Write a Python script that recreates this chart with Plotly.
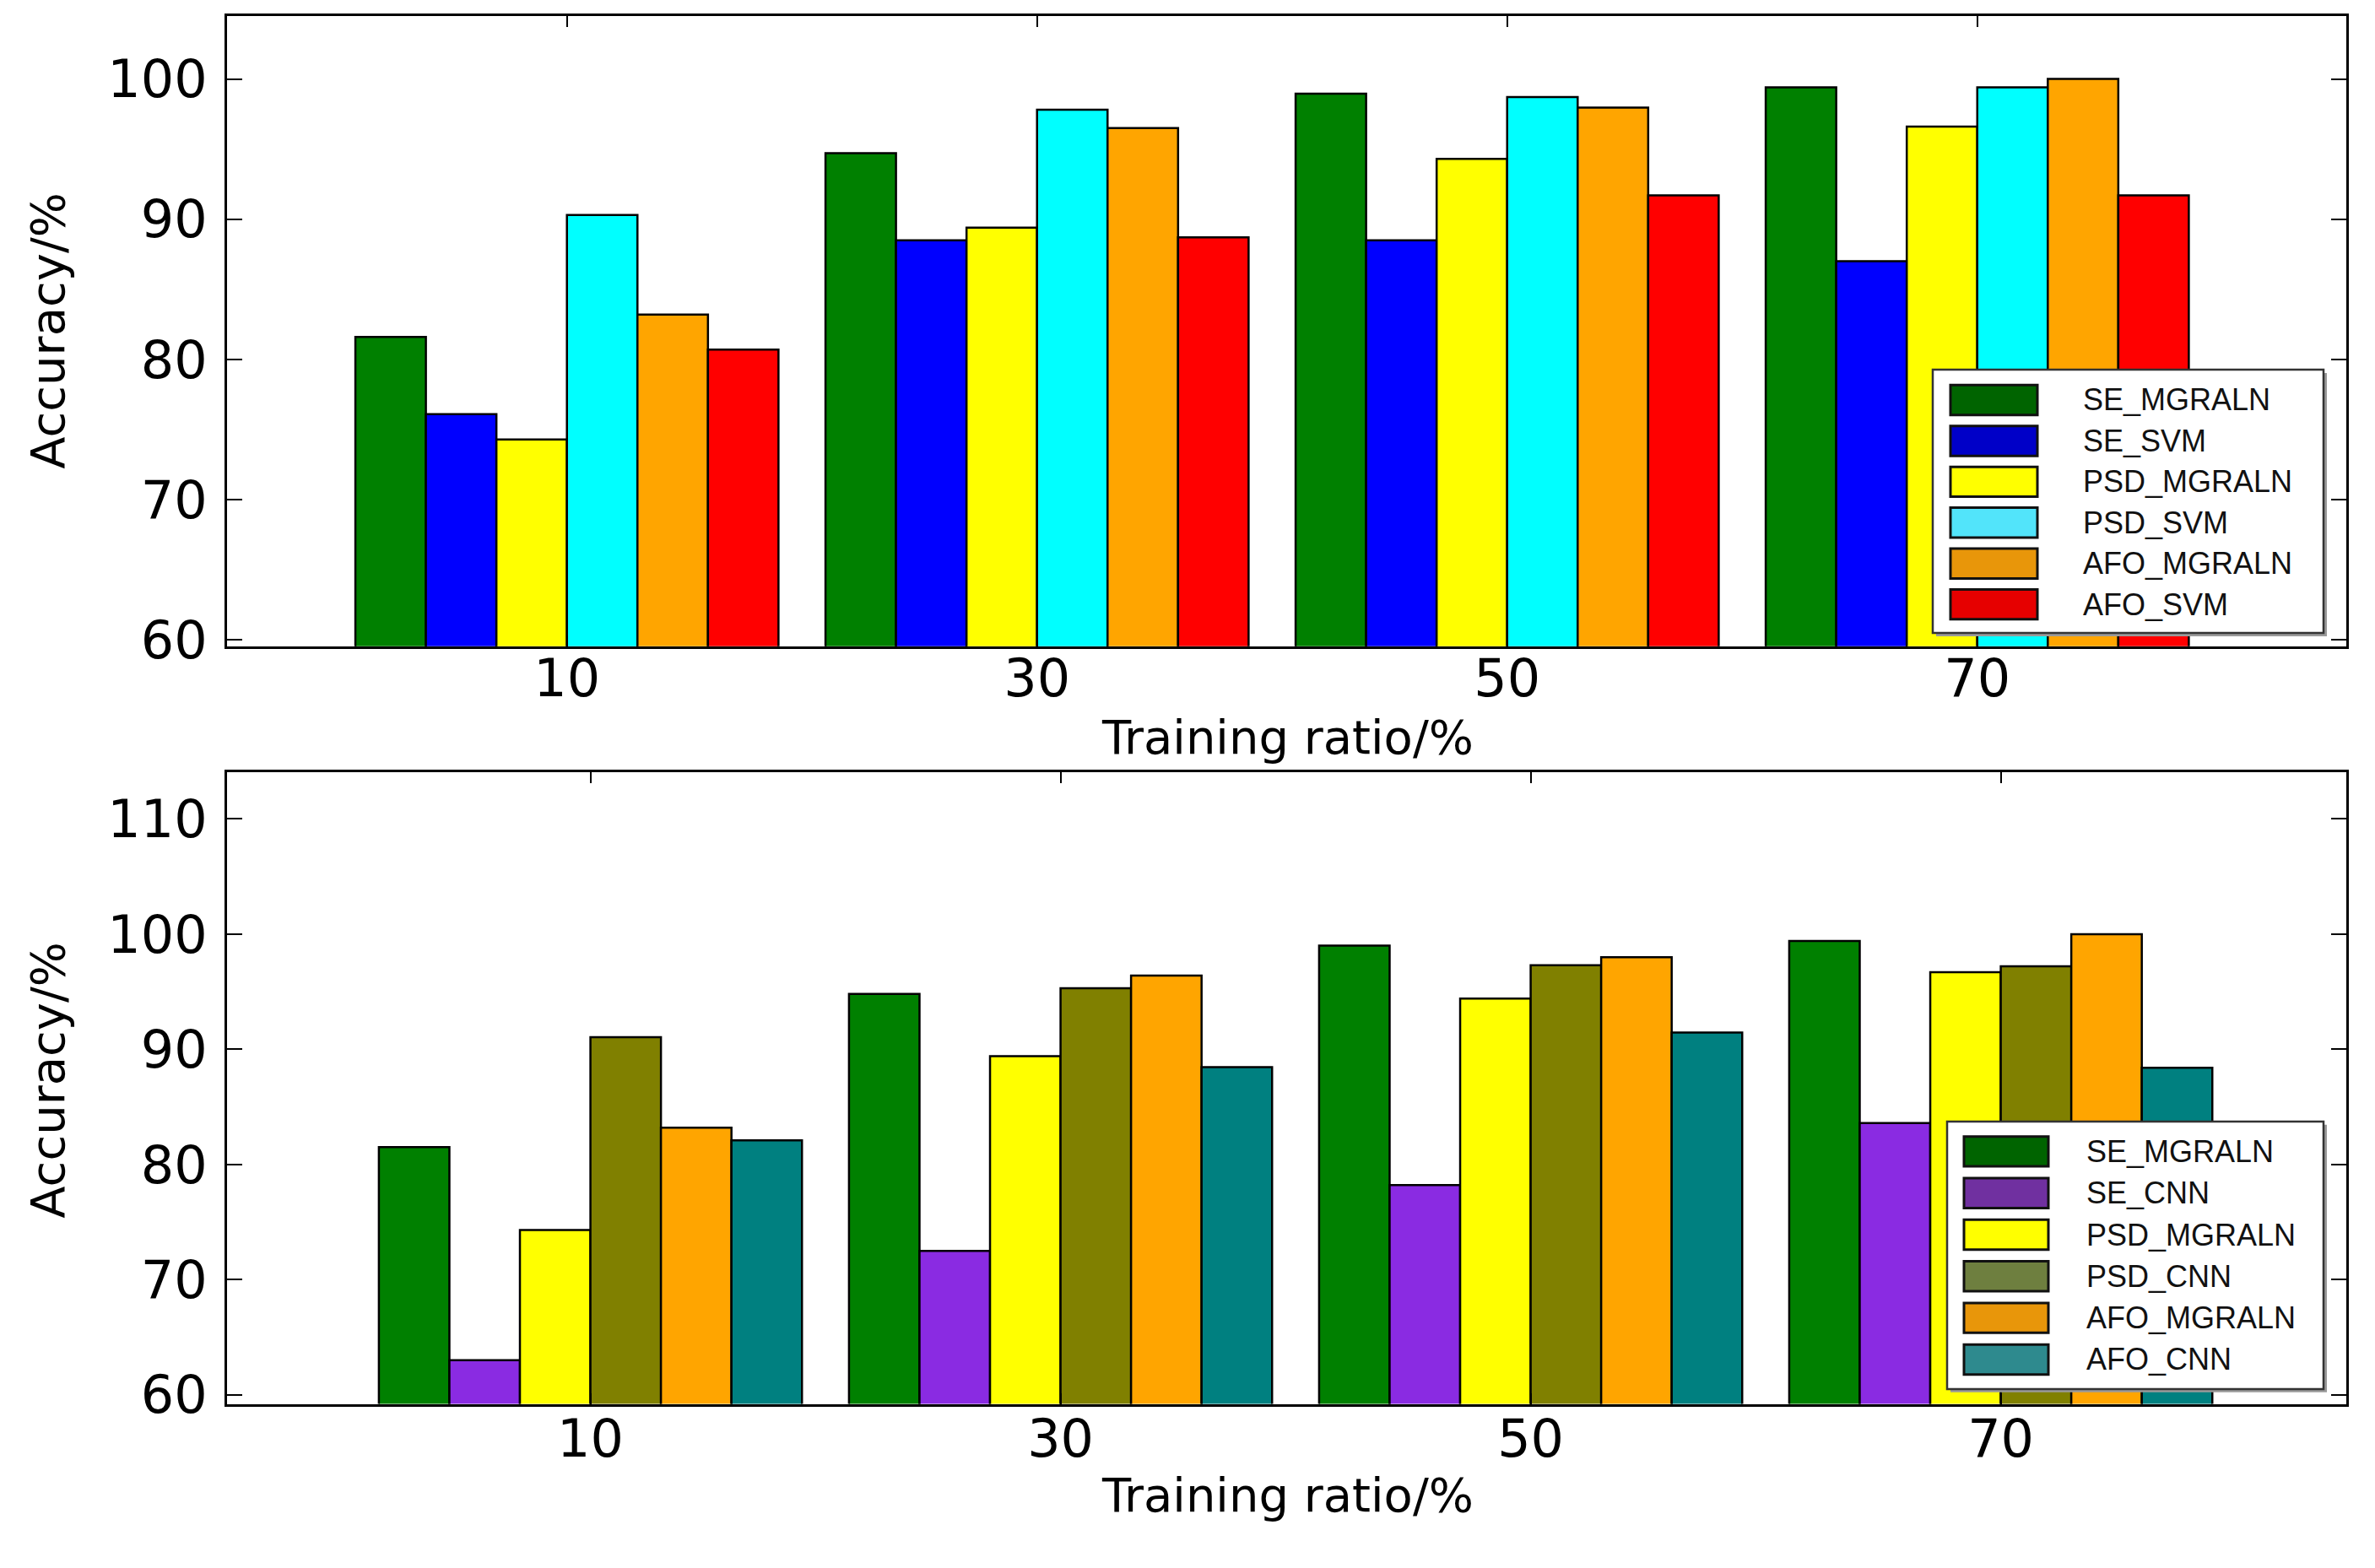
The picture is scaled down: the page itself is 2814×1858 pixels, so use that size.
import plotly.graph_objects as go

# ---------------- data ----------------
ratios = ["10", "30", "50", "70"]

top_names = ["SE_MGRALN", "SE_SVM", "PSD_MGRALN", "PSD_SVM", "AFO_MGRALN", "AFO_SVM"]
top_se_mgraln = [81.6, 94.7, 98.95, 99.4]
top_se_svm = [76.1, 88.5, 88.5, 87.0]
top_psd_mgraln = [74.3, 89.4, 94.3, 96.6]
top_psd_svm = [90.3, 97.8, 98.7, 99.4]
top_afo_mgraln = [83.2, 96.5, 97.95, 100.0]
top_afo_svm = [80.7, 88.7, 91.7, 91.7]

bot_names = ["SE_MGRALN", "SE_CNN", "PSD_MGRALN", "PSD_CNN", "AFO_MGRALN", "AFO_CNN"]
bot_se_mgraln = [81.5, 94.8, 99.0, 99.4]
bot_se_cnn = [63.0, 72.5, 78.2, 83.6]
bot_psd_mgraln = [74.3, 89.4, 94.4, 96.7]
bot_psd_cnn = [91.05, 95.3, 97.3, 97.2]
bot_afo_mgraln = [83.2, 96.4, 98.0, 100.0]
bot_afo_cnn = [82.1, 88.45, 91.45, 88.4]

top_values = [top_se_mgraln, top_se_svm, top_psd_mgraln, top_psd_svm, top_afo_mgraln, top_afo_svm]
bot_values = [bot_se_mgraln, bot_se_cnn, bot_psd_mgraln, bot_psd_cnn, bot_afo_mgraln, bot_afo_cnn]

top_colors = ["#008000", "#0000ff", "#ffff00", "#00ffff", "#ffa500", "#ff0000"]
bot_colors = ["#008000", "#8a2be2", "#ffff00", "#808000", "#ffa500", "#008080"]
top_legend_colors = ["#006400", "#0000c8", "#ffff00", "#52e4fa", "#e8960a", "#e60000"]
bot_legend_colors = ["#006400", "#7030a0", "#ffff00", "#6e7f3f", "#e8960a", "#2e8a8e"]

yticks_top = [60, 70, 80, 90, 100]
yticks_bot = [60, 70, 80, 90, 100, 110]

# ---------------- figure ----------------
W, H = 2814, 1858
xpos = list(range(len(ratios)))

fig = go.Figure()
for name, vals, col in zip(top_names, top_values, top_colors):
    fig.add_trace(go.Bar(x=xpos, y=vals, name=name, marker=dict(color=col, line=dict(color="black", width=2.5)),
                         xaxis="x", yaxis="y", showlegend=False, offsetgroup=name + "_t"))
for name, vals, col in zip(bot_names, bot_values, bot_colors):
    fig.add_trace(go.Bar(x=xpos, y=vals, name=name, marker=dict(color=col, line=dict(color="black", width=2.5)),
                         xaxis="x2", yaxis="y2", showlegend=False, offsetgroup=name + "_b"))

def px_x(v):
    return v / W

def px_y(v):
    return 1 - v / H

xdom = [px_x(269), px_x(2780)]
tick_font = dict(family="DejaVu Sans", size=62, color="black")
axis_common = dict(showline=True, linecolor="black", linewidth=3, mirror="ticks", ticks="inside",
                   tickcolor="black", tickwidth=2, showgrid=False, zeroline=False, tickfont=tick_font)

fig.update_layout(
    width=W, height=H, margin=dict(l=0, r=0, t=0, b=0),
    paper_bgcolor="white", plot_bgcolor="white",
    barmode="group", bargap=0.1, bargroupgap=0,
    xaxis=dict(domain=xdom, anchor="y", range=[-0.723, 3.785], tickmode="array", tickvals=xpos,
               ticktext=ratios, ticklen=13, ticklabelstandoff=-18, **axis_common),
    yaxis=dict(domain=[px_y(778), px_y(19)], anchor="x", range=[59.55, 104.5], tickmode="array",
               tickvals=yticks_top, ticklen=18, ticklabelstandoff=8, **axis_common),
    xaxis2=dict(domain=xdom, anchor="y2", range=[-0.773, 3.735], tickmode="array", tickvals=xpos,
                ticktext=ratios, ticklen=13, ticklabelstandoff=-15, **axis_common),
    yaxis2=dict(domain=[px_y(1690), px_y(929)], anchor="x2", range=[59.2, 114.1], tickmode="array",
                tickvals=yticks_bot, ticklen=18, ticklabelstandoff=8, **axis_common),
)

title_font = dict(family="DejaVu Sans", size=56, color="black")
annotations = [
    dict(text="Training ratio/%", x=px_x(1525), y=px_y(887), xref="paper", yref="paper",
         showarrow=False, font=title_font, xanchor="center", yanchor="middle"),
    dict(text="Training ratio/%", x=px_x(1525), y=px_y(1800), xref="paper", yref="paper",
         showarrow=False, font=title_font, xanchor="center", yanchor="middle"),
    dict(text="Accuracy/%", x=px_x(57), y=px_y(398), xref="paper", yref="paper", textangle=-90,
         showarrow=False, font=title_font, xanchor="center", yanchor="middle"),
    dict(text="Accuracy/%", x=px_x(57), y=px_y(1300), xref="paper", yref="paper", textangle=-90,
         showarrow=False, font=title_font, xanchor="center", yanchor="middle"),
]

shapes = []

def add_legend(names, colors, box, patch_x, row0, step, text_x):
    x0, y0, x1, y1 = box
    # shadow
    shapes.append(dict(type="rect", xref="paper", yref="paper", x0=px_x(x0 + 4), x1=px_x(x1 + 4),
                       y0=px_y(y1 + 4), y1=px_y(y0 + 4), line=dict(width=0), fillcolor="#9a9a9a"))
    shapes.append(dict(type="rect", xref="paper", yref="paper", x0=px_x(x0), x1=px_x(x1),
                       y0=px_y(y1), y1=px_y(y0), line=dict(color="#333333", width=2.5), fillcolor="white"))
    for i, (nm, col) in enumerate(zip(names, colors)):
        cy = row0 + i * step
        shapes.append(dict(type="rect", xref="paper", yref="paper", x0=px_x(patch_x[0]), x1=px_x(patch_x[1]),
                           y0=px_y(cy + 18), y1=px_y(cy - 18), line=dict(color="#111111", width=3),
                           fillcolor=col))
        annotations.append(dict(text=nm, x=px_x(text_x), y=px_y(cy), xref="paper", yref="paper",
                                showarrow=False, xanchor="left", yanchor="middle",
                                font=dict(family="Liberation Sans", size=36, color="#111111")))

add_legend(top_names, top_legend_colors, (2290, 445, 2753, 762), (2311, 2414), 481.5, 49.2, 2466)
add_legend(bot_names, bot_legend_colors, (2307, 1350, 2753, 1672), (2327, 2427), 1386, 50.1, 2470)

fig.update_layout(annotations=annotations, shapes=shapes)

fig.write_html("out.html", config={"displayModeBar": False},
               post_script="document.body.style.margin='0';document.body.style.overflow='hidden';")
